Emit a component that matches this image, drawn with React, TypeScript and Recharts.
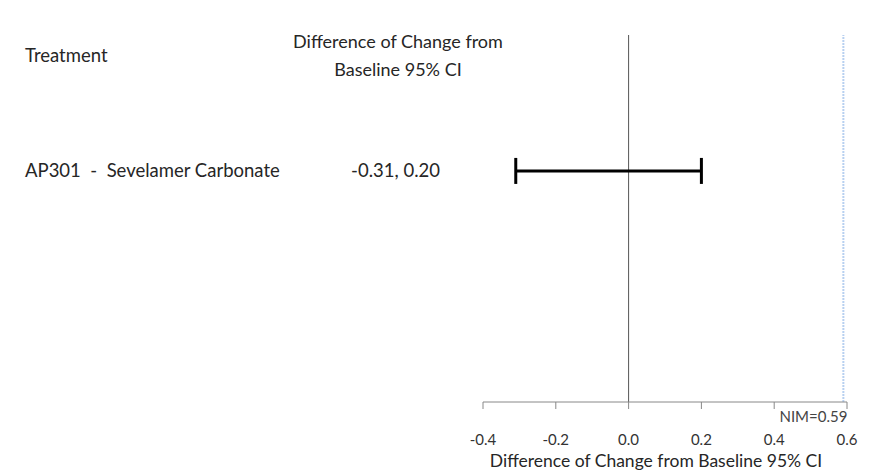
import React from "react";
import {
  ErrorBar,
  ReferenceLine,
  Scatter,
  ScatterChart,
  XAxis,
  YAxis,
} from "recharts";

// one row per treatment comparison
const treatments = ["AP301  -  Sevelamer Carbonate"];
const ciLower = [-0.31];
const ciUpper = [0.2];
const ciText = ["-0.31, 0.20"];

const xTicks = [-0.4, -0.2, 0, 0.2, 0.4, 0.6];
const nim = 0.59;

const FONT = "Lato, 'Open Sans', sans-serif";
const TEXT = "#262626";

const rows = treatments.map((name, i) => {
  const mid = (ciLower[i] + ciUpper[i]) / 2;
  return {
    name,
    ci: ciText[i],
    row: i + 1,
    mid,
    err: [mid - ciLower[i], ciUpper[i] - mid],
  };
});

function RowTick(props: any) {
  const { y, payload } = props;
  const r = rows.find((d) => d.row === payload.value);
  if (!r) return null;
  return (
    <g>
      <text x={25} y={y} dy="0.35em" fill={TEXT} fontSize={18.5} fontFamily={FONT} style={{ whiteSpace: "pre" }}>
        {r.name}
      </text>
      <text x={440} y={y} dy="0.35em" textAnchor="end" fill={TEXT} fontSize={18.5} fontFamily={FONT}>
        {r.ci}
      </text>
    </g>
  );
}

function NimLabel(props: any) {
  const vb = props.viewBox || {};
  return (
    <text
      x={(vb.x ?? 0) + 4}
      y={(vb.y ?? 0) + (vb.height ?? 0) + 20}
      textAnchor="end"
      fill="#444"
      fontSize={15}
      fontFamily={FONT}
    >
      {`NIM=${nim}`}
    </text>
  );
}

export default function App() {
  return (
    <div style={{ position: "absolute", left: 0, top: 0, width: 872, height: 476, background: "#fff", fontFamily: FONT, color: TEXT }}>
      <div style={{ position: "absolute", left: 25, top: 43, fontSize: 18.5, lineHeight: "24px" }}>Treatment</div>
      <div style={{ position: "absolute", left: 268, width: 260, top: 27, fontSize: 18, lineHeight: "28px", textAlign: "center" }}>
        Difference of Change from
        <br />
        Baseline 95% CI
      </div>
      <ScatterChart width={872} height={476} margin={{ top: 35, right: 25, bottom: 0, left: 0 }}>
        <XAxis
          type="number"
          dataKey="mid"
          domain={[-0.4, 0.6]}
          ticks={xTicks}
          tickFormatter={(v) => Number(v).toFixed(1)}
          tickSize={7}
          tickMargin={25}
          height={74}
          stroke="#888"
          tick={{ fill: "#333", fontSize: 15, fontFamily: FONT }}
          label={{
            value: "Difference of Change from Baseline 95% CI",
            position: "insideBottom",
            offset: 9,
            dx: -9,
            fill: TEXT,
            fontSize: 17.5,
            fontFamily: FONT,
          }}
        />
        <YAxis
          type="number"
          dataKey="row"
          domain={[0, 2.7]}
          reversed
          ticks={rows.map((r) => r.row)}
          width={483}
          axisLine={false}
          tickLine={false}
          tick={<RowTick />}
        />
        <ReferenceLine x={0} stroke="#555" strokeWidth={1} />
        <ReferenceLine
          x={nim}
          stroke="#b8d0f0"
          strokeWidth={2}
          strokeDasharray="2 1"
          label={<NimLabel />}
        />
        <Scatter data={rows} isAnimationActive={false} shape={() => <g />}>
          <ErrorBar dataKey="err" direction="x" width={13} strokeWidth={3} stroke="#000" isAnimationActive={false} />
        </Scatter>
      </ScatterChart>
    </div>
  );
}
